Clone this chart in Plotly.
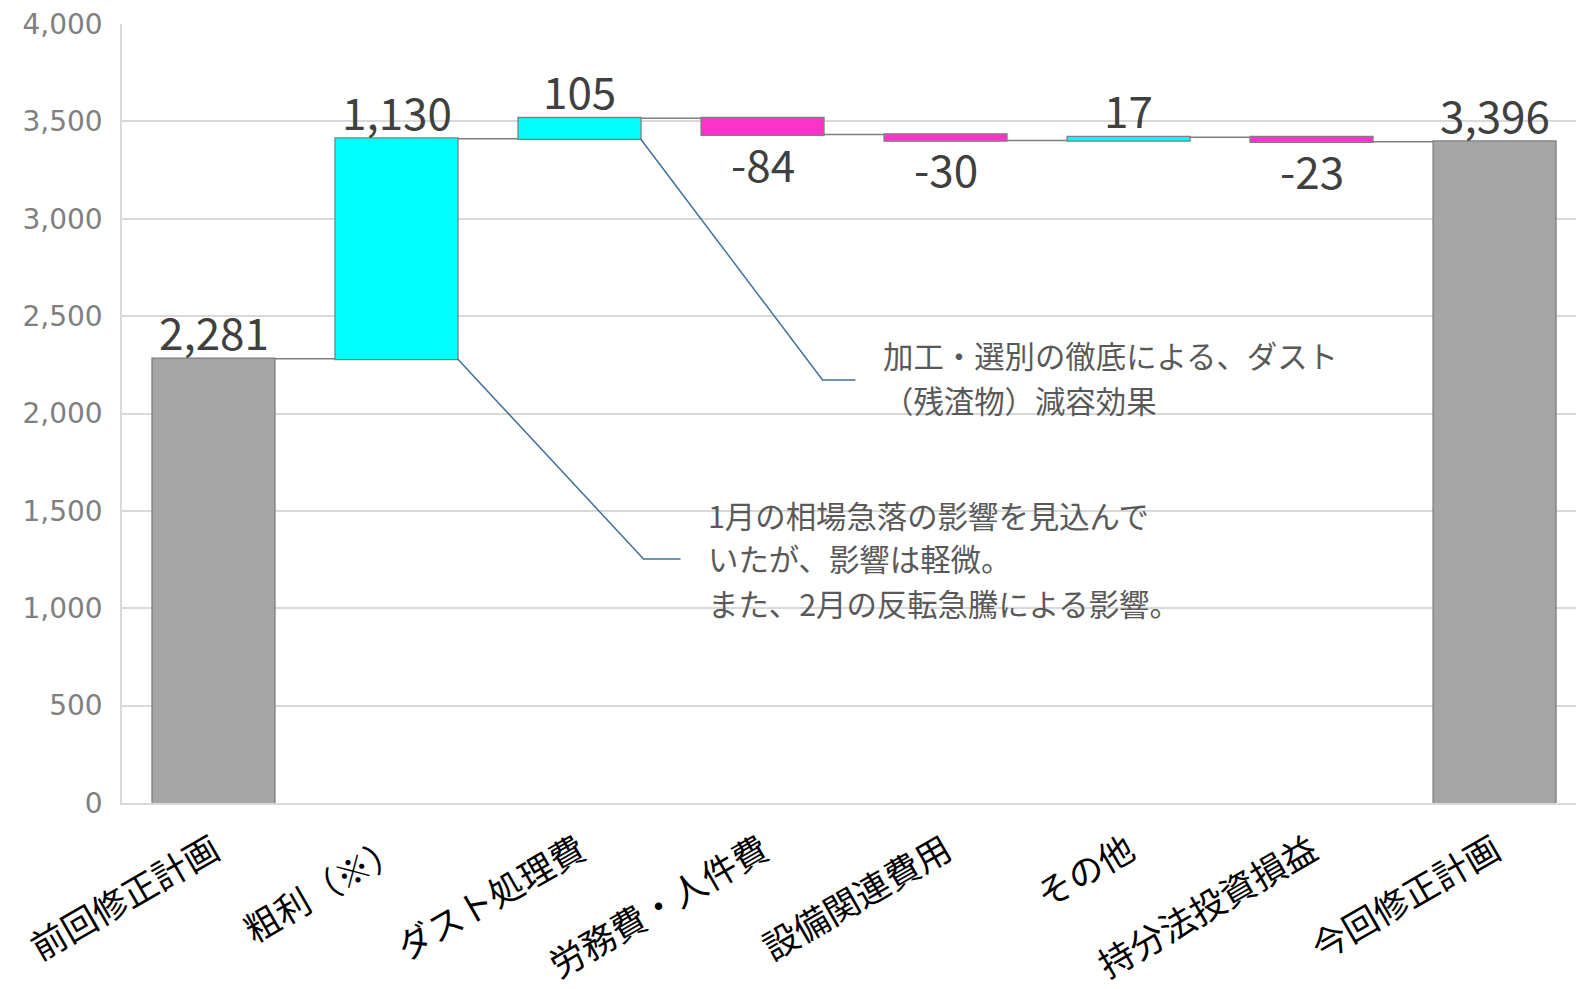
import plotly.graph_objects as go

categories = ["前回修正計画", "粗利（※）", "ダスト処理費", "労務費・人件費", "設備関連費用", "その他", "持分法投資損益", "今回修正計画"]
values = [2281, 1130, 105, -84, -30, 17, -23, 3396]
measures = ["absolute", "relative", "relative", "relative", "relative", "relative", "relative", "total"]
y_ticks = [0, 500, 1000, 1500, 2000, 2500, 3000, 3500, 4000]

note_dust_lines = ["加工・選別の徹底による、ダスト", "（残渣物）減容効果"]
note_dust_y = [2300, 2069]
note_gross_lines = ["1月の相場急落の影響を見込んで", "いたが、影響は軽微。", "また、2月の反転急騰による影響。"]
note_gross_y = [1479, 1258, 1027]

GRAY = "#A5A5A5"
CYAN = "#00FFFF"
MAGENTA = "#FF33CC"
EDGE = "#7F7F7F"
JP = "Noto Sans CJK JP"

fig = go.Figure()
fig.add_trace(go.Waterfall(
    x=list(range(len(categories))),
    y=values,
    measure=measures,
    width=0.672,
    increasing=dict(marker=dict(color=CYAN, line=dict(color=EDGE, width=1.3))),
    decreasing=dict(marker=dict(color=MAGENTA, line=dict(color=EDGE, width=1.3))),
    totals=dict(marker=dict(color=GRAY, line=dict(color=EDGE, width=1.3))),
    connector=dict(line=dict(color=EDGE, width=1.5), mode="between"),
    textinfo="none",
    hoverinfo="skip",
))

# data labels computed from cumulative levels
level = 0
annotations = []
for i, (v, m) in enumerate(zip(values, measures)):
    if m == "absolute":
        start, end = 0, v
        level = v
    elif m == "total":
        start, end = 0, level
    else:
        start, end = level, level + v
        level = level + v
    top, bot = max(start, end), min(start, end)
    if m != "relative" or v >= 0:
        annotations.append(dict(x=i, y=top, text=f"{v:,}", showarrow=False, yanchor="bottom",
                                yshift=-6, font=dict(family=JP, size=44, color="#404040")))
    else:
        annotations.append(dict(x=i, y=bot, text=f"{v:,}", showarrow=False, yanchor="top",
                                yshift=6, font=dict(family=JP, size=44, color="#404040")))

for line, yv in zip(note_dust_lines, note_dust_y):
    annotations.append(dict(x=3.645, y=yv, text=line, showarrow=False, xanchor="left", yanchor="middle",
                            align="left", font=dict(family=JP, size=30.4, color="#595959")))
for line, yv in zip(note_gross_lines, note_gross_y):
    annotations.append(dict(x=2.69, y=yv, text=line, showarrow=False, xanchor="left", yanchor="middle",
                            align="left", font=dict(family=JP, size=30.4, color="#595959")))

LEAD = "#41719C"
shapes = [
    dict(type="path", path="M 2.333,3411 L 3.328,2172 L 3.508,2172", xref="x", yref="y",
         line=dict(color=LEAD, width=1.5)),
    dict(type="path", path="M 1.333,2281 L 2.350,1253 L 2.552,1253", xref="x", yref="y",
         line=dict(color=LEAD, width=1.5)),
]

fig.update_layout(
    width=1576, height=989,
    margin=dict(l=122, r=0, t=24, b=186),
    paper_bgcolor="white", plot_bgcolor="white",
    showlegend=False,
    annotations=annotations,
    shapes=shapes,
    xaxis=dict(
        range=[-0.5, 7.445],
        tickmode="array", tickvals=list(range(len(categories))), ticktext=categories,
        tickangle=-30,
        tickfont=dict(family=JP, size=35, color="#000000"),
        showgrid=False, showline=True, linecolor="#D9D9D9", linewidth=1.5,
        zeroline=False, ticks="", ticklabelstandoff=12,
    ),
    yaxis=dict(
        range=[0, 4000],
        tickmode="array", tickvals=y_ticks,
        tickformat=",",
        tickfont=dict(family="DejaVu Sans", size=28, color="#808080"),
        showgrid=True, gridcolor="#D9D9D9", gridwidth=1.5,
        showline=True, linecolor="#D9D9D9", linewidth=1.5,
        zeroline=False, ticks="", ticklabelstandoff=12,
    ),
)

fig.write_html("out.html")
